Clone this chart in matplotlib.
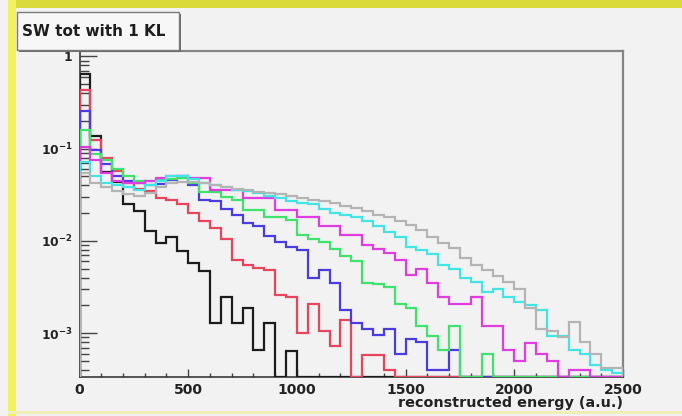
import numpy as np
import matplotlib
matplotlib.use("Agg")
import matplotlib.pyplot as plt
from matplotlib.patches import Rectangle
from matplotlib.ticker import FixedLocator, LogLocator, MultipleLocator, NullFormatter

plt.rcParams["font.family"] = ["DejaVu Sans"]
plt.rcParams["font.weight"] = "bold"
plt.rcParams["mathtext.fontset"] = "dejavusans"

# ---- data: normalised reconstructed-energy spectra, 50 bins of 50 a.u. ----
bin_edges = np.linspace(0, 2500, 51)

black = [0.65, 0.138, 0.056, 0.044, 0.025, 0.021, 0.0127, 0.0095, 0.011, 0.0077,
         0.0058, 0.0047, 0.0013, 0.0025, 0.0013, 0.0019, 0.00066, 0.0013, 0, 0.00064] + [0] * 30

red = [0.43, 0.123, 0.08, 0.058, 0.042, 0.037, 0.035, 0.029, 0.028, 0.025,
       0.020, 0.0163, 0.0138, 0.0106, 0.0063, 0.0055, 0.0051, 0.0048, 0.0026, 0.0025,
       0.0010, 0.0021, 0.00105, 0.00073, 0.0014, 0, 0.00058, 0.00058, 0.0004] + [0] * 21

blue = [0.255, 0.096, 0.068, 0.050, 0.045, 0.042, 0.040, 0.041, 0.046, 0.050,
        0.040, 0.028, 0.027, 0.022, 0.019, 0.0155, 0.0145, 0.0112, 0.0098, 0.0087,
        0.0080, 0.0040, 0.0049, 0.0035, 0.0018, 0.0013, 0.0011, 0.00096, 0.0011, 0.0006,
        0.00086, 0.0008, 0.0004, 0.0004, 0.00066] + [0] * 15

green = [0.158, 0.088, 0.075, 0.060, 0.050, 0.045, 0.045, 0.046, 0.047, 0.048,
         0.043, 0.034, 0.034, 0.030, 0.028, 0.0217, 0.0217, 0.0183, 0.0183, 0.017,
         0.0116, 0.0105, 0.0098, 0.0081, 0.0068, 0.0060, 0.0035, 0.0034, 0.0032, 0.0021,
         0.0019, 0.0012, 0.00093, 0.00066, 0.0012, 0, 0, 0.0006] + [0] * 12

magenta = [0.104, 0.075, 0.055, 0.045, 0.042, 0.042, 0.045, 0.048, 0.05, 0.05,
           0.048, 0.048, 0.036, 0.036, 0.036, 0.029, 0.029, 0.029, 0.0217, 0.0217,
           0.0183, 0.0183, 0.0144, 0.0144, 0.0116, 0.0116, 0.0091, 0.0081, 0.0075, 0.0063,
           0.0043, 0.005, 0.0035, 0.0025, 0.0021, 0.0021, 0.0025, 0.0012, 0.0012, 0.00066,
           0.0005, 0.00078, 0.0006, 0.0005, 0.00034, 0.0004, 0.0004, 0, 0, 0]

cyan = [0.072, 0.05, 0.043, 0.04, 0.038, 0.036, 0.04, 0.045, 0.05, 0.05,
        0.047, 0.043, 0.04, 0.038, 0.036, 0.035, 0.033, 0.031, 0.029, 0.027,
        0.026, 0.025, 0.022, 0.020, 0.019, 0.018, 0.0163, 0.0144, 0.0125, 0.011,
        0.0087, 0.008, 0.0072, 0.0055, 0.005, 0.004, 0.0036, 0.0028, 0.003, 0.0025,
        0.0022, 0.002, 0.0018, 0.00093, 0.00093, 0.00066, 0.0006, 0.00045, 0.0004, 0.00037]

gray = [0.054, 0.042, 0.038, 0.035, 0.032, 0.031, 0.033, 0.038, 0.042, 0.044,
        0.044, 0.042, 0.040, 0.038, 0.037, 0.036, 0.034, 0.033, 0.032, 0.031,
        0.029, 0.028, 0.027, 0.026, 0.024, 0.023, 0.021, 0.019, 0.018, 0.0163,
        0.015, 0.013, 0.011, 0.0095, 0.0085, 0.0065, 0.0055, 0.0048, 0.0042, 0.0036,
        0.003, 0.0019, 0.0011, 0.00105, 0.0009, 0.00134, 0.0008, 0.0006, 0.00042, 0.00042]

series = [
    (black, "#1c1c1c"),
    (red, "#e8455c"),
    (blue, "#4c3ce0"),
    (green, "#3fe36c"),
    (magenta, "#e03ce0"),
    (cyan, "#40e6e6"),
    (gray, "#b4b4b4"),
]

x_ticks = [0, 500, 1000, 1500, 2000, 2500]
y_decades = [1e-3, 1e-2, 1e-1, 1]
y_labels = [r"$\mathbf{10^{-3}}$", r"$\mathbf{10^{-2}}$", r"$\mathbf{10^{-1}}$", r"$\mathbf{1}$"]

title = "SW tot with 1 KL"
x_title = "reconstructed energy (a.u.)"

# ---- canvas ----
W, H = 682, 416
bg = "#f2f2f2"
fig = plt.figure(figsize=(W / 100, H / 100), dpi=100)
fig.patch.set_facecolor(bg)


def px_rect(x0, y0, x1, y1, **kw):
    """Rectangle given in pixel coordinates measured from the top-left corner."""
    return Rectangle((x0 / W, 1 - y1 / H), (x1 - x0) / W, (y1 - y0) / H,
                     transform=fig.transFigure, **kw)


# yellow canvas border
fig.patches.append(px_rect(9, 0, W, 7.5, facecolor="#dada3a", edgecolor="none", zorder=0))
fig.patches.append(px_rect(8, 0, 15.5, H, facecolor="#f2f25e", edgecolor="none", zorder=0))
fig.patches.append(px_rect(8, 410.5, W, 413.5, facecolor="#eeeeb8", edgecolor="none", zorder=0))

ax_l, ax_r, ax_t, ax_b = 79.5, 623, 50.5, 376.5
ax = fig.add_axes([ax_l / W, 1 - ax_b / H, (ax_r - ax_l) / W, (ax_b - ax_t) / H])
ax.set_facecolor(bg)

y_lo, y_hi = 3.4e-4, 1.16
for values, color in series:
    v = np.asarray(values, dtype=float)
    v = np.where(v > 0, v, y_lo)          # empty bins sit on the frame floor
    ax.stairs(v, bin_edges, baseline=y_lo, color=color, lw=1.6, zorder=3)

ax.set_yscale("log")
ax.set_xlim(0, 2500)
ax.set_ylim(y_lo, y_hi)

ax.xaxis.set_major_locator(FixedLocator(x_ticks))
ax.xaxis.set_minor_locator(MultipleLocator(100))
ax.set_xticklabels([str(t) for t in x_ticks])
ax.yaxis.set_major_locator(FixedLocator(y_decades))
ax.yaxis.set_minor_locator(LogLocator(base=10, subs=np.arange(2, 10)))
ax.yaxis.set_minor_formatter(NullFormatter())
ax.set_yticklabels(y_labels)

ax.tick_params(axis="both", which="both", direction="in", top=False, right=False,
               color="#444444", width=1.0)
ax.tick_params(axis="x", which="major", length=6, pad=4.5, labelsize=10)
ax.tick_params(axis="x", which="minor", length=3)
ax.tick_params(axis="y", which="major", length=12, pad=5, labelsize=8.8)
ax.tick_params(axis="y", which="minor", length=6.5)
for lab in ax.get_xticklabels() + ax.get_yticklabels():
    lab.set_fontweight("bold")
    lab.set_color("#222222")

for side in ("left", "bottom"):
    ax.spines[side].set_color("#3a3a3a")
    ax.spines[side].set_linewidth(1.2)
for side in ("top", "right"):
    ax.spines[side].set_color("#858585")
    ax.spines[side].set_linewidth(1.6)

fig.text(623 / W, 1 - 403.5 / H, x_title, ha="right", va="center",
         fontsize=10.4, fontweight="bold", color="#222222")

# title box with drop shadow
fig.patches.append(px_rect(18.5, 13.5, 180.5, 51.5, facecolor="#6a6a6a", edgecolor="none", zorder=4))
fig.patches.append(px_rect(16.5, 11.5, 178.5, 49.5, facecolor="#f7f7f7",
                           edgecolor="#7a7a7a", linewidth=1.0, zorder=5))
fig.text(22 / W, 1 - 31 / H, title, ha="left", va="center",
         fontsize=11, fontweight="bold", color="#1e1e1e", zorder=6)

fig.savefig("out.png", dpi=100, facecolor=fig.get_facecolor())
